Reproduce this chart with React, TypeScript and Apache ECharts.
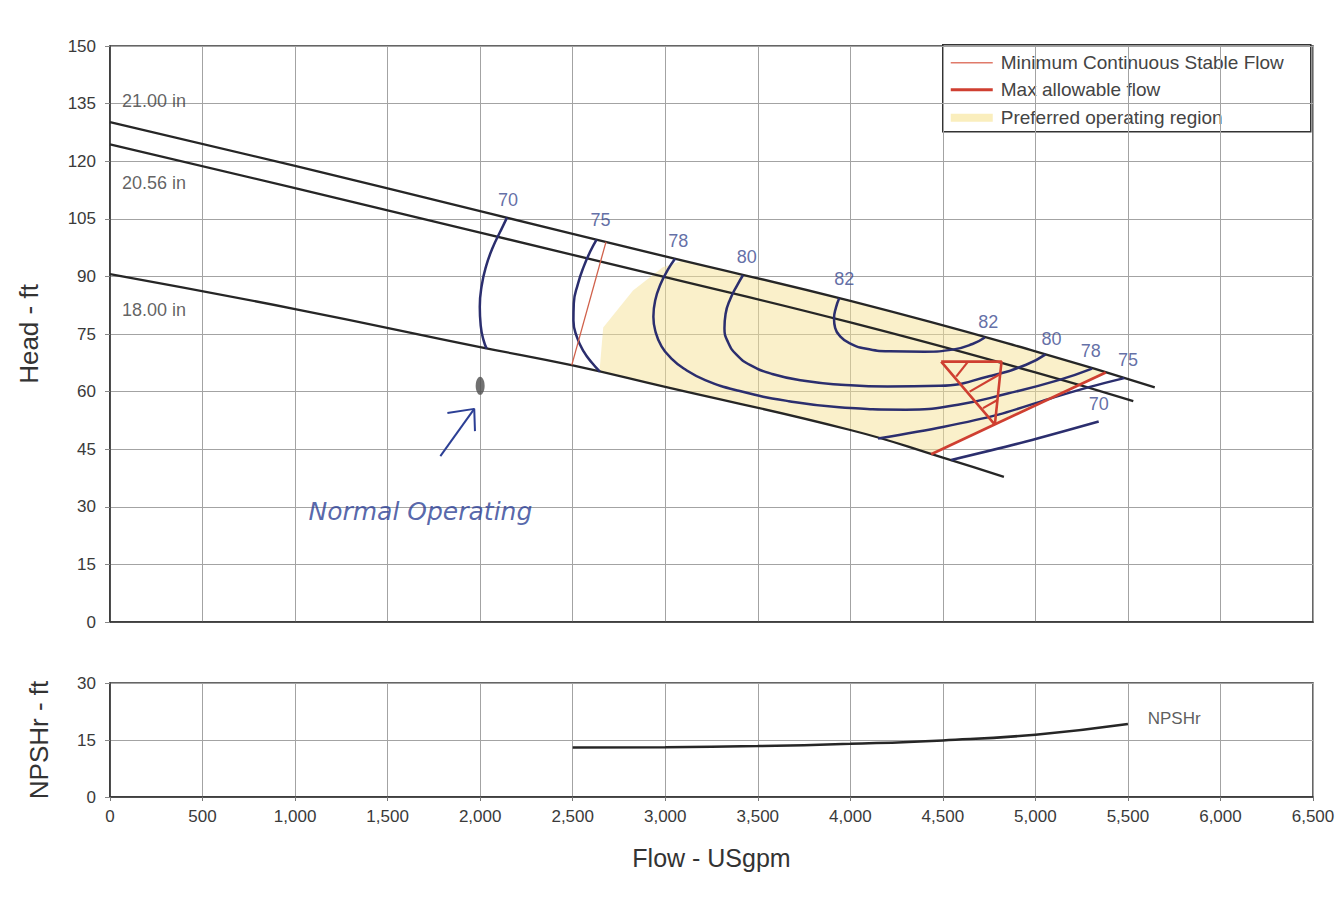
import React, { useEffect, useRef } from 'react';
import * as echarts from 'echarts';

// ---- data (flow USgpm, head ft) ----
const impeller21 = [[0, 130.2], [1000, 118.8], [2000, 107], [3000, 95.2], [4000, 83.6], [5000, 70.5], [5645, 61.1]];
const impeller2056 = [[0, 124.4], [1000, 113], [2000, 101.4], [3000, 89.8], [4000, 78], [5000, 65], [5529, 57.5]];
const impeller18 = [[0, 90.6], [1000, 81.5], [2000, 71.6], [2500, 66.8], [3000, 61.2], [4000, 50], [4500, 42.8], [4830, 37.8]];

const eff70Left = [[2145, 105.3], [2110, 101.8], [2068, 97.5], [2033, 92.8], [2008, 87.5], [1998, 82], [2003, 77.2], [2017, 73.6], [2035, 71.2]];
const eff75Left = [[2629, 99.6], [2596, 96.6], [2560, 92.6], [2528, 88], [2506, 83], [2504, 78.5], [2523, 74.2], [2560, 70.4], [2604, 67.5], [2647, 65.2]];
const eff78 = [[3053, 94.6], [3015, 91.8], [2975, 88], [2946, 83.8], [2936, 79.5], [2948, 75.5], [2980, 71.8], [3030, 68.8], [3100, 66], [3216, 63], [3397, 60.2], [3668, 57.5], [3940, 55.9], [4300, 55.3], [4582, 56.6], [4850, 59.5], [5125, 63], [5306, 66.0]];
const eff80 = [[3420, 90.3], [3390, 87.8], [3352, 84.2], [3326, 80.2], [3320, 76.5], [3340, 72.8], [3385, 69.6], [3460, 66.9], [3578, 64.6], [3750, 62.8], [3950, 61.8], [4200, 61.3], [4484, 61.5], [4750, 64], [4950, 67], [5055, 69.7]];
const eff82 = [[3940, 84.3], [3922, 81.8], [3912, 79], [3918, 76.6], [3945, 74.4], [3995, 72.6], [4080, 71.2], [4212, 70.5], [4400, 70.4], [4560, 71], [4660, 72.4], [4727, 74.1]];
const eff75Right = [[4150, 47.8], [4500, 50.8], [4800, 54], [5100, 58.5], [5300, 61.3], [5480, 63.5]];
const eff70Right = [[4545, 42.2], [4950, 47], [5342, 52.2]];

const minStableFlow = [[2680, 99], [2495, 66.9]];
const maxAllowableFlow = [[4437, 43.7], [5380, 65]];
const maxFlowTriangle = [[4491, 67.8], [4817, 67.8], [4781, 51.4], [4491, 67.8]];
const maxFlowHatch1 = [[4572, 63.9], [4636, 67.8]];
const maxFlowHatch2 = [[4645, 60], [4810, 64.6]];
const maxFlowHatch3 = [[4717, 55.7], [4795, 57.8]];

const preferredRegion = [[2645, 65.3], [2665, 76.7], [2826, 86.3], [2987, 92.4], [3090, 94.1], [4000, 83.6], [5000, 70.5], [5380, 65], [4437, 43.7], [4000, 50], [3000, 61.2], [2645, 65.2]];

const npshr = [[2500, 13.0], [3000, 13.1], [3500, 13.4], [4000, 14], [4500, 14.9], [5000, 16.4], [5500, 19.2]];

const normalOperatingPoint = [2000, 61.5];
const arrowShaft = [[1785, 43.2], [1968, 55.5]];
const arrowHead = [[1823, 54.4], [1968, 55.5], [1972, 49.7]];

const diameterLabels: [string, number, number][] = [['21.00 in', 238, 135.8], ['20.56 in', 238, 114.4], ['18.00 in', 238, 81.2]];
const efficiencyLabels: [string, number, number][] = [
  ['70', 2150, 109.9], ['75', 2650, 104.7], ['78', 3071, 99.2], ['80', 3440, 95], ['82', 3967, 89.2],
  ['82', 4745, 78.2], ['80', 5087, 73.6], ['78', 5299, 70.7], ['75', 5500, 68.1], ['70', 5342, 56.7],
];
const annotationLabels: [string, number, number][] = [['Normal Operating', 1677, 28.9]];
const npshLabels: [string, number, number][] = [['NPSHr', 5750, 20.6]];

const legendItems = ['Minimum Continuous Stable Flow', 'Max allowable flow', 'Preferred operating region'];

const FONT = "'Liberation Sans', Arial, sans-serif";
const NAVY = '#2b2e6e';
const DARK = '#262626';
const RED = '#cf3f31';

const fmt = (v: number) => String(v).replace(/\B(?=(\d{3})+(?!\d))/g, ',');

function line(data: number[][], color: string, width: number, smooth: number | boolean, z = 3, grid = 0) {
  return {
    type: 'line', data, xAxisIndex: grid, yAxisIndex: grid, showSymbol: false, symbol: 'none',
    smooth, lineStyle: { color, width }, silent: true, z, animation: false,
  };
}

function labels(items: [string, number, number][], color: string, fontSize: number, extra: any = {}, grid = 0) {
  return {
    type: 'scatter', xAxisIndex: grid, yAxisIndex: grid, symbolSize: 0, silent: true, z: 6,
    data: items.map(([t, x, y]) => ({ name: t, value: [x, y] })),
    label: { show: true, position: 'inside', formatter: '{b}', color, fontSize, fontFamily: FONT, ...extra },
  };
}

export default function App() {
  const ref = useRef<HTMLDivElement>(null);
  useEffect(() => {
    document.body.style.margin = '0';
    const chart = echarts.init(ref.current!, null, { renderer: 'svg' });
    const axisLabel = { fontSize: 17, color: '#3a3a3a', fontFamily: FONT };
    const splitLine = { show: true, lineStyle: { color: '#a3a3a3', width: 1 } };
    const axisLine = { show: true, lineStyle: { color: '#333', width: 1.5 } };
    const option: any = {
      animation: false,
      backgroundColor: '#fff',
      textStyle: { fontFamily: FONT },
      grid: [
        { left: 110, top: 46, width: 1203, height: 576, show: true, borderColor: '#333', borderWidth: 1.5 },
        { left: 110, top: 683, width: 1203, height: 114, show: true, borderColor: '#333', borderWidth: 1.5 },
      ],
      xAxis: [
        { gridIndex: 0, type: 'value', min: 0, max: 6500, interval: 500, axisLabel: { show: false }, axisTick: { show: false }, axisLine, splitLine },
        {
          gridIndex: 1, type: 'value', min: 0, max: 6500, interval: 500,
          axisLabel: { ...axisLabel, margin: 11, formatter: fmt }, axisTick: { show: true, length: 4, lineStyle: { color: '#777' } },
          axisLine, splitLine,
          name: 'Flow - USgpm', nameLocation: 'middle', nameGap: 48, nameTextStyle: { fontSize: 25, color: '#333', fontFamily: FONT },
        },
      ],
      yAxis: [
        {
          gridIndex: 0, type: 'value', min: 0, max: 150, interval: 15, axisLabel: { ...axisLabel, margin: 14 },
          axisTick: { show: true, length: 5, lineStyle: { color: '#888' } }, axisLine, splitLine,
          name: 'Head - ft', nameLocation: 'middle', nameGap: 68, nameTextStyle: { fontSize: 26, color: '#333', fontFamily: FONT },
        },
        {
          gridIndex: 1, type: 'value', min: 0, max: 30, interval: 15, axisLabel: { ...axisLabel, margin: 14 },
          axisTick: { show: true, length: 5, lineStyle: { color: '#888' } }, axisLine, splitLine,
          name: 'NPSHr - ft', nameLocation: 'middle', nameGap: 58, nameTextStyle: { fontSize: 26, color: '#333', fontFamily: FONT },
        },
      ],
      series: [
        {
          type: 'custom', xAxisIndex: 0, yAxisIndex: 0, data: [[0, 0]], silent: true, z: 1, clip: true,
          renderItem: (_p: any, api: any) => ({
            type: 'polygon',
            shape: { points: preferredRegion.map((p) => api.coord(p)) },
            style: { fill: 'rgba(245,226,150,0.5)' },
          }),
        },
        line(impeller21, DARK, 2.3, true),
        line(impeller2056, DARK, 2.3, true),
        line(impeller18, DARK, 2.3, true),
        line(eff70Left, NAVY, 2.5, 0.5, 4),
        line(eff75Left, NAVY, 2.5, 0.5, 4),
        line(eff78, NAVY, 2.5, 0.5, 4),
        line(eff80, NAVY, 2.5, 0.5, 4),
        line(eff82, NAVY, 2.5, 0.5, 4),
        line(eff75Right, NAVY, 2.5, 0.3, 4),
        line(eff70Right, NAVY, 2.5, 0.3, 4),
        line(minStableFlow, '#d0604a', 1.3, false, 5),
        line(maxAllowableFlow, RED, 2.8, false, 5),
        line(maxFlowTriangle, RED, 2.6, false, 5),
        line(maxFlowHatch1, RED, 2.2, false, 5),
        line(maxFlowHatch2, RED, 2.2, false, 5),
        line(maxFlowHatch3, RED, 2.2, false, 5),
        line(arrowShaft, '#2c3f95', 2, false, 5),
        line(arrowHead, '#2c3f95', 2, false, 5),
        {
          type: 'scatter', xAxisIndex: 0, yAxisIndex: 0, symbol: 'circle', symbolSize: [9, 18], silent: true, z: 6,
          data: [normalOperatingPoint], itemStyle: { color: '#4d4d4d' },
        },
        labels(diameterLabels, '#3a3a3a', 18),
        labels(efficiencyLabels, '#3b4a8f', 18),
        labels(annotationLabels, '#2c3f95', 25, { fontStyle: 'italic', fontFamily: "'DejaVu Sans', sans-serif" }),
        line(npshr, DARK, 2.5, true, 3, 1),
        labels(npshLabels, '#333', 17, {}, 1),
      ],
      graphic: [
        {
          type: 'group', left: 942, top: 44, z: 100,
          children: [
            { type: 'rect', shape: { x: 0, y: 0, width: 368, height: 87 }, style: { fill: '#fff', stroke: '#333', lineWidth: 1.5 } },
            { type: 'line', shape: { x1: 8, y1: 18, x2: 50, y2: 18 }, style: { stroke: '#e07a6a', lineWidth: 1.3 } },
            { type: 'line', shape: { x1: 8, y1: 45, x2: 50, y2: 45 }, style: { stroke: RED, lineWidth: 3 } },
            { type: 'line', shape: { x1: 8, y1: 73, x2: 50, y2: 73 }, style: { stroke: '#faeebd', lineWidth: 8 } },
            ...legendItems.map((t, i) => ({
              type: 'text', x: 58, y: [18, 45, 73][i],
              style: { text: t, fill: '#444', font: `19px ${FONT}`, textVerticalAlign: 'middle', verticalAlign: 'middle' },
            })),
          ],
        },
      ],
    };
    chart.setOption(option);
    return () => chart.dispose();
  }, []);
  return <div ref={ref} style={{ width: 1342, height: 908, background: '#fff' }} />;
}
